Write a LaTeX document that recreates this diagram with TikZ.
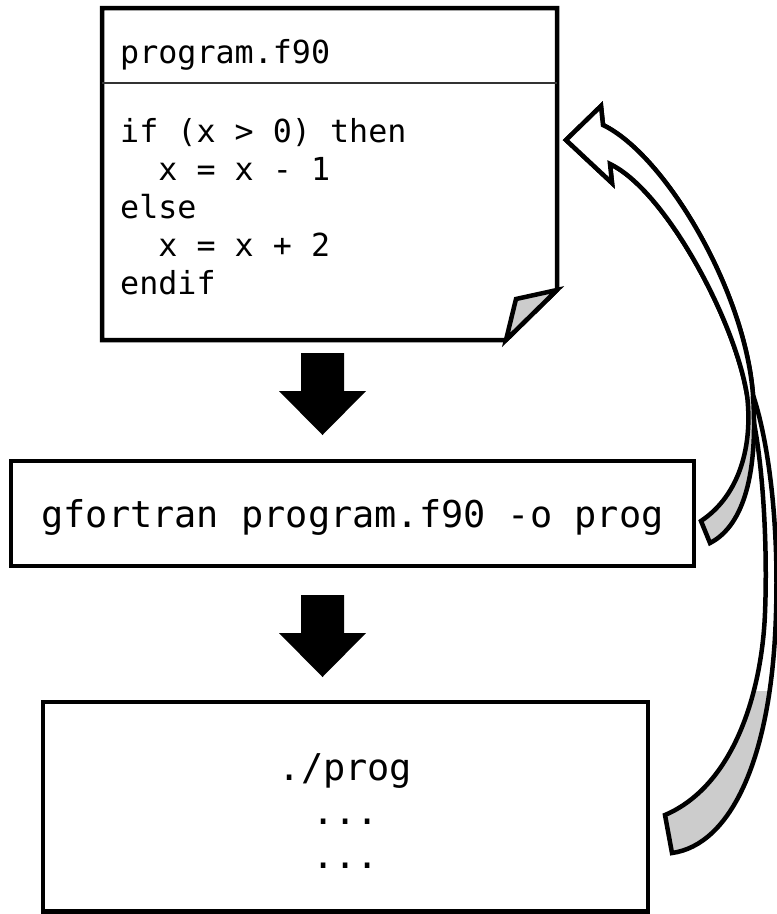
\documentclass[tikz,border=0pt]{standalone}
\usepackage{fontspec}
\newfontfamily\codefont{DejaVu Sans Mono}
\definecolor{flapgray}{RGB}{204,204,204}
\frenchspacing
\begin{document}
\begin{tikzpicture}[x=1pt,y=-1pt,
  boxline/.style={draw=black, line width=4.5pt, line join=miter},
  srcfont/.style={font=\codefont\fontsize{31.7}{38}\selectfont, inner sep=0pt, anchor=base west},
  cmdfont/.style={font=\codefont\fontsize{36.9}{44}\selectfont, inner sep=0pt, anchor=base},
  ribbon/.style={draw=black, line width=4.5pt, line join=miter, miter limit=6},
  blockarrow/.pic={\fill[black] (-21.5,0) -- (21.5,0) -- (21.5,38) -- (43.5,38)
      -- (0,82) -- (-43.5,38) -- (-21.5,38) -- cycle;}]
\useasboundingbox (0,0) rectangle (777,914);

% ---- source file as a dog-eared sheet ----
\node[minimum width=455pt, minimum height=332pt, inner sep=0pt, outer sep=0pt] (note) at (329.5,174) {};
\draw[boxline, fill=white] (note.north west) -- (note.north east)
  -- ([yshift=50pt]note.south east) -- ([xshift=-51pt]note.south east)
  -- (note.south west) -- cycle;
\draw[boxline, fill=flapgray] ([xshift=-51pt]note.south east)
  -- ([xshift=-41pt,yshift=41pt]note.south east)
  -- ([yshift=50pt]note.south east) -- cycle;
\draw[line width=1.5pt, black!80] ([yshift=-75pt]note.north west) -- ([yshift=-75pt]note.north east);

\node[srcfont] (fname) at (120,63) {program.f90};
\node[srcfont] (l1) at (120,142) {if (x > 0) then};
\node[srcfont] (l2) at (120,180) {\hphantom{xx}x = x - 1};
\node[srcfont] (l3) at (120,218) {else};
\node[srcfont] (l4) at (120,256) {\hphantom{xx}x = x + 2};
\node[srcfont] (l5) at (120,294) {endif};

% ---- compile step ----
\node[boxline, minimum width=683pt, minimum height=105pt, inner sep=0pt] (cmd) at (352.5,513.5) {};
\node[cmdfont] (cmdtext) at (352.5,527) {gfortran program.f90 -o prog};

% ---- run step ----
\node[boxline, minimum width=605pt, minimum height=209.5pt, inner sep=0pt] (run) at (345.5,806.75) {};
\node[cmdfont] (runl1) at (345.5,780) {./prog};
\node[cmdfont] (runl2) at (345.5,824) {...};
\node[cmdfont] (runl3) at (345.5,868) {...};

% ---- downward block arrows ----
\pic at (322.5,353) {blockarrow};
\pic at (322.5,595) {blockarrow};

% ---- curved feedback arrows back to the source ----
\coordinate (tip) at (566,140);
\coordinate (barbU) at (601,106);
\coordinate (baseU) at (603,125);
\coordinate (baseL) at (610,164);
\coordinate (barbL) at (612,183);
\coordinate (twistL) at (747,395);
\coordinate (twistR) at (753,395);

% from the run box
\def\ribbonB{(665,815) .. controls (735,785) and (762,690) .. (765,613)
  .. controls (768,540) and (762,440) .. (twistL)
  .. controls (735,320) and (665,190) .. (baseL) -- (barbL) -- (tip) -- (barbU) -- (baseU)
  .. controls (665,155) and (745,290) .. (twistR)
  .. controls (768,440) and (779,520) .. (776,613)
  .. controls (772,760) and (730,845) .. (672,853) -- cycle}
% from the compile box
\def\ribbonA{(701,521) .. controls (740,495) and (753,445) .. (twistL)
  .. controls (735,320) and (665,190) .. (baseL) -- (barbL) -- (tip) -- (barbU) -- (baseU)
  .. controls (665,155) and (745,290) .. (twistR)
  .. controls (758,470) and (745,525) .. (710,543) -- cycle}

\fill[flapgray] \ribbonB;
\begin{scope}
  \clip (0,0) rectangle (777,690);
  \fill[white] \ribbonB;
\end{scope}
\draw[ribbon] \ribbonB;

\fill[flapgray] \ribbonA;
\begin{scope}
  \clip (0,0) rectangle (777,395);
  \fill[white] \ribbonA;
\end{scope}
\draw[ribbon] \ribbonA;
\end{tikzpicture}
\end{document}
